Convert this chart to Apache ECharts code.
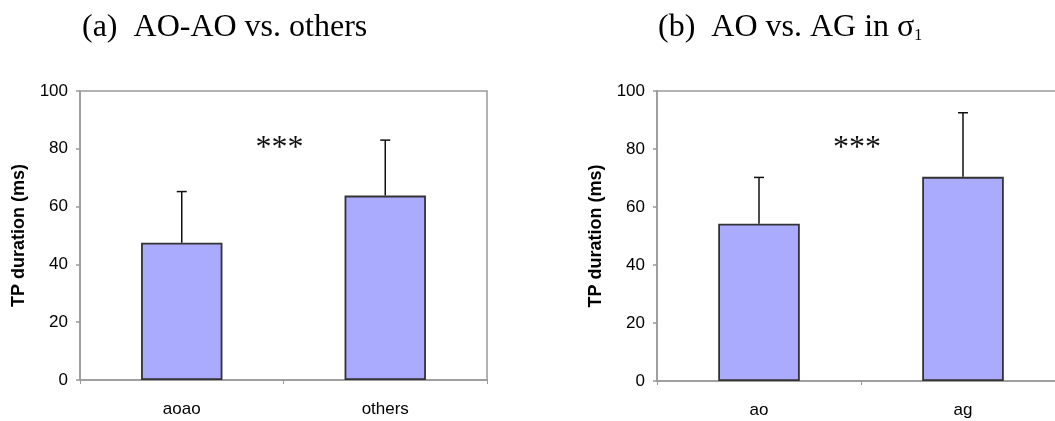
<!DOCTYPE html>
<html>
<head>
<meta charset="utf-8">
<script src="https://cdn.jsdelivr.net/npm/echarts@6/dist/echarts.min.js"></script>
<style>
html,body{margin:0;padding:0;background:#fff;}
#chart{width:1055px;height:421px;}
</style>
</head>
<body>
<div id="chart"></div>
<script>
// ---- data ----
const catsA = ['aoao', 'others'];
const meanA = [47.5, 63.8];
const sdA = [17.7, 19.2];
const catsB = ['ao', 'ag'];
const meanB = [54.2, 70.4];
const sdB = [16.0, 22.1];
const sigText = '***';
const sigLevelA = 80.0;
const sigLevelB = 80.0;
const yMin = 0, yMax = 100, yStep = 20;
const titleA = '(a)  AO-AO vs. others';
const yName = 'TP duration (ms)';

// ---- styles ----
const barFill = '#aaaaff';
const barEdge = '#333333';
const axisGray = '#999999';
const sansFont = 'Liberation Sans';
const serifFont = 'Liberation Serif';

function errData(means, sds) {
  return means.map((m, i) => [i, m, m + sds[i]]);
}

function errRender(params, api) {
  const p0 = api.coord([api.value(0), api.value(1)]);
  const p1 = api.coord([api.value(0), api.value(2)]);
  const cap = 5;
  return {
    type: 'group',
    children: [
      { type: 'line', shape: { x1: p0[0], y1: p0[1], x2: p1[0], y2: p1[1] }, style: { stroke: '#111', lineWidth: 1.5 } },
      { type: 'line', shape: { x1: p1[0] - cap, y1: p1[1], x2: p1[0] + cap, y2: p1[1] }, style: { stroke: '#111', lineWidth: 1.5 } }
    ]
  };
}

function sigRender(params, api) {
  const a = api.coord([0, api.value(1)]);
  const b = api.coord([1, api.value(1)]);
  return {
    type: 'text',
    style: {
      text: sigText,
      x: (a[0] + b[0]) / 2 - 4,
      y: a[1],
      align: 'center',
      verticalAlign: 'middle',
      font: '32px "' + serifFont + '"',
      fill: '#111'
    }
  };
}

function xAxis(cats, gi) {
  return {
    type: 'category', gridIndex: gi, data: cats,
    axisLine: { lineStyle: { color: axisGray, width: 1.5 } },
    axisTick: { show: true, length: 4, lineStyle: { color: axisGray, width: 1 } },
    axisLabel: { color: '#000', fontFamily: sansFont, fontSize: 17, margin: 21 }
  };
}
function yAxis(gi) {
  return {
    type: 'value', gridIndex: gi, min: yMin, max: yMax, interval: yStep,
    name: yName, nameLocation: 'middle', nameGap: 52,
    nameTextStyle: { color: '#000', fontFamily: sansFont, fontSize: 18, fontWeight: 'bold' },
    axisLine: { show: true, lineStyle: { color: axisGray, width: 1.5 } },
    axisTick: { show: true, length: 4, lineStyle: { color: axisGray, width: 1.5 } },
    axisLabel: { color: '#000', fontFamily: sansFont, fontSize: 17, margin: 12 },
    splitLine: { show: false }
  };
}

const chart = echarts.init(document.getElementById('chart'), null, { renderer: 'canvas' });
chart.setOption({
  animation: false,
  backgroundColor: '#fff',
  title: [
    { text: titleA, left: 82, top: 12, padding: 0,
      textStyle: { fontFamily: serifFont, fontSize: 32, fontWeight: 'normal', color: '#000' } },
    { text: '{t|(b)  AO vs. AG in σ}{s|1}', left: 658, top: 12, padding: 0,
      textStyle: { fontFamily: serifFont, fontSize: 32, fontWeight: 'normal', color: '#000',
        rich: {
          t: { fontFamily: serifFont, fontSize: 32, color: '#000', verticalAlign: 'bottom' },
          s: { fontFamily: serifFont, fontSize: 16, color: '#000', verticalAlign: 'bottom' }
        } } }
  ],
  grid: [
    { left: 80, top: 91, width: 407, height: 289, outerBoundsMode: 'none', containLabel: false,
      show: true, borderColor: axisGray, borderWidth: 1.5, backgroundColor: 'transparent' },
    { left: 657, top: 91, width: 408, height: 290, outerBoundsMode: 'none', containLabel: false,
      show: true, borderColor: axisGray, borderWidth: 1.5, backgroundColor: 'transparent' }
  ],
  xAxis: [xAxis(catsA, 0), xAxis(catsB, 1)],
  yAxis: [yAxis(0), yAxis(1)],
  series: [
    { type: 'bar', xAxisIndex: 0, yAxisIndex: 0, data: meanA, barWidth: '40%',
      itemStyle: { color: barFill, borderColor: barEdge, borderWidth: 1.8 } },
    { type: 'bar', xAxisIndex: 1, yAxisIndex: 1, data: meanB, barWidth: '40%',
      itemStyle: { color: barFill, borderColor: barEdge, borderWidth: 1.8 } },
    { type: 'custom', xAxisIndex: 0, yAxisIndex: 0, data: errData(meanA, sdA), renderItem: errRender, z: 5 },
    { type: 'custom', xAxisIndex: 1, yAxisIndex: 1, data: errData(meanB, sdB), renderItem: errRender, z: 5 },
    { type: 'custom', xAxisIndex: 0, yAxisIndex: 0, data: [[0, sigLevelA]], renderItem: sigRender, z: 6 },
    { type: 'custom', xAxisIndex: 1, yAxisIndex: 1, data: [[0, sigLevelB]], renderItem: sigRender, z: 6 }
  ]
});
</script>
</body>
</html>
